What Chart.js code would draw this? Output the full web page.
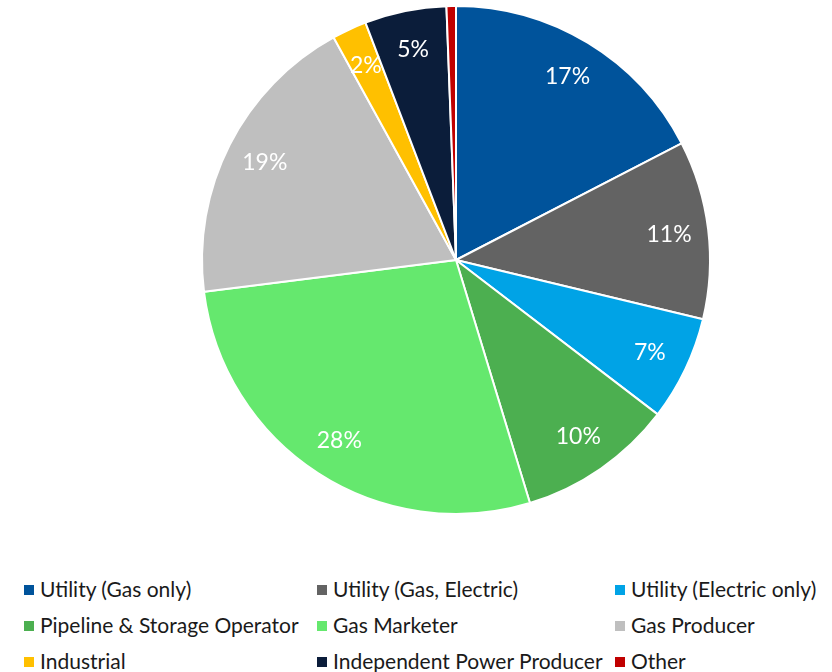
<!DOCTYPE html>
<html>
<head>
<meta charset="utf-8">
<script src="https://cdn.jsdelivr.net/npm/chart.js@4.4.0/dist/chart.umd.min.js"></script>
<style>
    html, body { margin: 0; padding: 0; background: #fff; }
    #wrap { position: relative; width: 832px; height: 672px; }
    #chartBox { position: absolute; left: 0; top: 0; width: 832px; height: 522px; }
    #legend { position: absolute; left: 0; top: 0; width: 832px; font-family: Lato, "Open Sans", sans-serif; font-size: 21px; color: #1a1a1a; }
    .item { position: absolute; white-space: nowrap; line-height: 24px; height: 24px; }
    .box { display: inline-block; width: 10px; height: 10px; margin-right: 6px; vertical-align: 2px; }
</style>
</head>
<body>
<div id="wrap">
    <div id="chartBox"><canvas id="pieChart"></canvas></div>
    <div id="legend"></div>
</div>
<script>
// Data (percent of respondents)
const categories = [
    'Utility (Gas only)',
    'Utility (Gas, Electric)',
    'Utility (Electric only)',
    'Pipeline & Storage Operator',
    'Gas Marketer',
    'Gas Producer',
    'Industrial',
    'Independent Power Producer',
    'Other'
];
const shares = [17.4, 11.35, 6.65, 9.9, 27.7, 19.0, 2.2, 5.2, 0.6];
const colors = ['#00539b', '#636363', '#00a3e6', '#4caf50', '#65e86e', '#bfbfbf', '#ffc000', '#0b1d3a', '#c00000'];

// Legend placement: three columns, three rows (row centres)
const legendCols = [24, 317, 615];
const legendRows = [589, 625, 661];

/**
 * Percent labels drawn inside each slice
 */
const sliceLabels = {
    id: 'sliceLabels',
    afterDatasetsDraw(chart) {
        const ctx = chart.ctx;
        const meta = chart.getDatasetMeta(0);
        ctx.save();
        ctx.font = '23px Lato, "Open Sans", sans-serif';
        ctx.fillStyle = '#ffffff';
        ctx.textAlign = 'center';
        ctx.textBaseline = 'middle';
        meta.data.forEach((arc, i) => {
            const value = shares[i];
            if (value < 1) return;
            const p = arc.getProps(['x', 'y', 'startAngle', 'endAngle', 'outerRadius'], true);
            const mid = (p.startAngle + p.endAngle) / 2;
            const r = p.outerRadius * 0.845;
            ctx.fillText(Math.round(value) + '%', p.x + Math.cos(mid) * r, p.y + Math.sin(mid) * r);
        });
        ctx.restore();
    }
};

const ctx = document.getElementById('pieChart').getContext('2d');
const pieChart = new Chart(ctx, {
    type: 'pie',
    data: {
        labels: categories,
        datasets: [{
            data: shares,
            backgroundColor: colors,
            borderColor: '#ffffff',
            borderWidth: 2
        }]
    },
    options: {
        responsive: true,
        maintainAspectRatio: false,
        animation: false,
        layout: {
            padding: { left: 80, right: 0, top: 5, bottom: 7 }
        },
        plugins: {
            legend: { display: false },
            tooltip: { enabled: false }
        }
    },
    plugins: [sliceLabels]
});

// Build the legend from the same arrays
const legend = document.getElementById('legend');
categories.forEach((name, i) => {
    const item = document.createElement('div');
    item.className = 'item';
    item.style.left = legendCols[i % 3] + 'px';
    item.style.top = (legendRows[Math.floor(i / 3)] - 12) + 'px';
    item.innerHTML = `<span class="box" style="background:${colors[i]}"></span>${name}`;
    legend.appendChild(item);
});
</script>
</body>
</html>
